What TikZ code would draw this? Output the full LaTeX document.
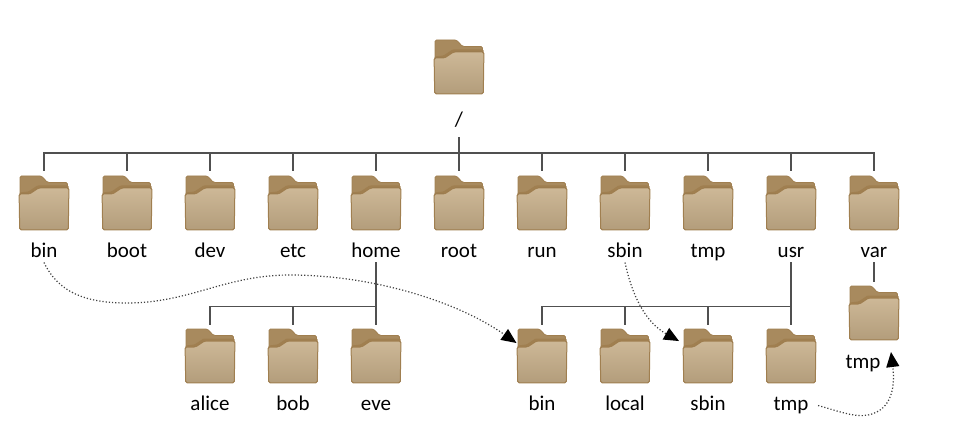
\documentclass[tikz,border=0pt]{standalone}
\usepackage{fontspec}
\setmainfont{Carlito}
\usepackage{xcolor}
\usetikzlibrary{arrows.meta,positioning}
\definecolor{tabtan}{HTML}{A88A5E}
\definecolor{edgetan}{HTML}{A07F50}
\definecolor{toptan}{HTML}{CDB897}
\definecolor{lowtan}{HTML}{B39D7B}
\definecolor{treeline}{HTML}{505050}
\tikzset{
  folder/.style={rectangle, minimum width=51pt, minimum height=55pt, inner sep=0pt, outer sep=0pt},
  foldericon/.pic={
    \begin{scope}[shift={(-25.5,-27.5)}]
      \filldraw[draw=edgetan, fill=tabtan, line width=0.8pt, rounded corners=1.5pt]
        (1.5,24) -- (1.5,0.5) -- (23,0.5) -- (29,7) -- (49,7) -- (49,24) -- cycle;
      \fill[edgetan, rounded corners=1pt] (1,17) -- (10,16) -- (19,10) -- (50,10) -- (50,20) -- (1,24) -- cycle;
      \filldraw[draw=edgetan, top color=toptan, bottom color=lowtan, line width=1pt, rounded corners=1.5pt]
        (0.6,18.5) -- (11,18.5) -- (20,12.5) -- (50.4,12.5) -- (49.8,54.3) -- (1.2,54.3) -- cycle;
    \end{scope}
  },
  dirlabel/.style={minimum height=24pt, inner sep=0pt, outer sep=0pt, text height=18pt, text depth=3pt,
    text=black, font=\fontsize{21}{24}\selectfont},
  conn/.style={draw=treeline, line width=1.6pt},
  linkarr/.style={dotted, line width=1.2pt, draw=black!75, -{Triangle[length=15pt,width=13pt,black]}}
}
\begin{document}
\begin{tikzpicture}[x=1pt,y=-1pt]
  \useasboundingbox (0,0) rectangle (955,438);
  % root
  \node[folder] (root) at (459,67) {};
  \node[dirlabel, below=13pt of root] (rootlbl) {/};
  % first level
  \node[folder] (bin) at (44,203) {};
  \foreach \name/\prev in {boot/bin,dev/boot,etc/dev,home/etc,rootdir/home,run/rootdir,
      sbin/run,tmp/sbin,usr/tmp,var/usr}
    \node[folder, right=32pt of \prev] (\name) {};
  \foreach \name/\txt in {bin/bin,boot/boot,dev/dev,etc/etc,home/home,rootdir/root,run/run,
      sbin/sbin,tmp/tmp,usr/usr,var/var}
    \node[dirlabel, below=8pt of \name] (\name lbl) {\txt};
  % below home
  \node[folder, below=66pt of homelbl] (eve) {};
  \node[folder, left=32pt of eve] (bob) {};
  \node[folder, left=32pt of bob] (alice) {};
  \foreach \name in {alice,bob,eve}
    \node[dirlabel, below=7.5pt of \name] (\name lbl) {\name};
  % below usr
  \node[folder, below=66pt of usrlbl] (utmp) {};
  \node[folder, left=32pt of utmp] (usbin) {};
  \node[folder, left=32pt of usbin] (ulocal) {};
  \node[folder, left=32pt of ulocal] (ubin) {};
  \foreach \name/\txt in {ubin/bin,ulocal/local,usbin/sbin,utmp/tmp}
    \node[dirlabel, below=7.5pt of \name] (\name lbl) {\txt};
  % below var
  \node[folder, below=23pt of varlbl] (vtmp) {};
  \node[dirlabel, below=8pt of vtmp, xshift=-11pt] (vtmplbl) {tmp};
  % folder icons
  \foreach \name in {root,bin,boot,dev,etc,home,rootdir,run,sbin,tmp,usr,var,
      alice,bob,eve,ubin,ulocal,usbin,utmp,vtmp}
    \pic at (\name) {foldericon};
  % tree lines
  \coordinate[below=58.5pt of root] (rootbus);
  \coordinate[below=44pt of homelbl] (homebus);
  \coordinate[below=44pt of usrlbl] (usrbus);
  \draw[conn, shorten <=6pt] (rootlbl) -- (rootbus);
  \foreach \name in {bin,boot,dev,etc,home,rootdir,run,sbin,tmp,usr,var}
    \draw[conn, shorten >=4pt] (rootbus) -| (\name.north);
  \draw[conn, shorten >=4pt] (homelbl) -- (eve.north);
  \foreach \name in {alice,bob}
    \draw[conn, shorten >=4pt] (homebus) -| (\name.north);
  \draw[conn, shorten >=4pt] (usrlbl) -- (utmp.north);
  \foreach \name in {ubin,ulocal,usbin}
    \draw[conn, shorten >=4pt] (usrbus) -| (\name.north);
  \draw[conn, shorten >=4pt] (varlbl) -- (vtmp.north);
  % links
  \coordinate (vtmpin) at (891,352);
  \draw[linkarr] (binlbl.south) .. controls (58,292) and (85,303) .. (127,303)
    .. controls (190,303) and (225,275) .. (290,275)
    .. controls (370,275) and (455,300) .. (ubin.153);
  \draw[linkarr, shorten >=4pt] (sbinlbl.south) .. controls (632,295) and (645,322) .. (usbin.153);
  \draw[linkarr, shorten <=10pt] (utmplbl.east) .. controls (835,410) and (855,418) .. (868,415)
    .. controls (893,410) and (895,385) .. (vtmpin);
\end{tikzpicture}
\end{document}
